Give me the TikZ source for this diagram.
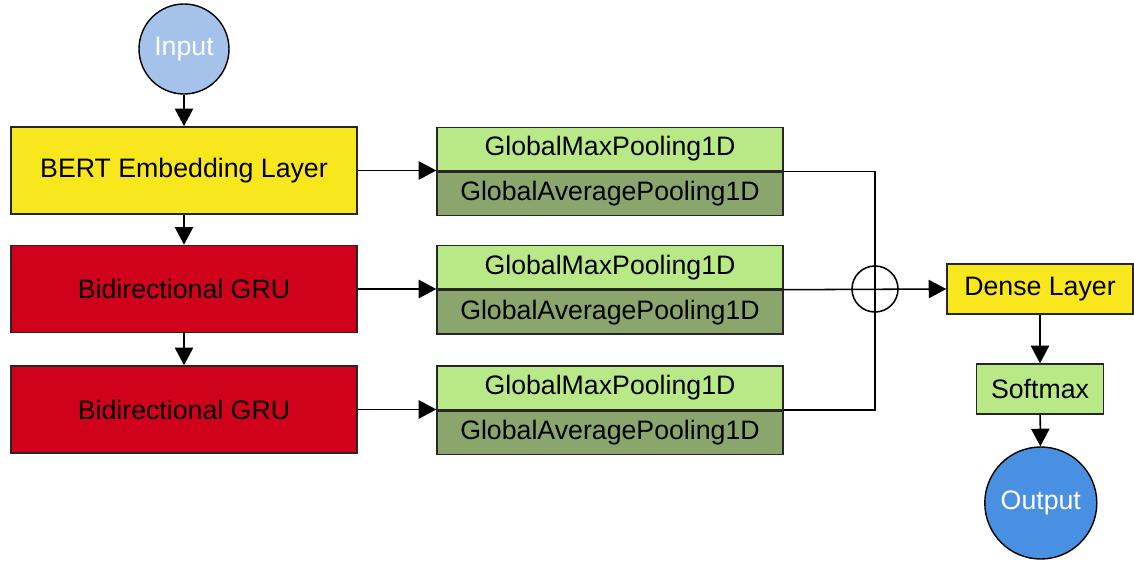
\documentclass[tikz,border=0pt]{standalone}
\usepackage{fontspec}
\setmainfont{Liberation Sans}
\usepackage{xcolor}
\usepackage{tikz}
\usetikzlibrary{positioning,arrows.meta}

\definecolor{layeryellow}{HTML}{F8E71C}
\definecolor{grured}{HTML}{D0021B}
\definecolor{poollight}{HTML}{B8E986}
\definecolor{pooldark}{HTML}{8AA66C}
\definecolor{inblue}{HTML}{A4C2EA}
\definecolor{outblue}{HTML}{4A90E2}

\tikzset{
  box/.style={draw=black!85, line width=1pt, inner sep=0pt, align=center},
  layer/.style={box, minimum width=8.65cm, minimum height=2.18cm},
  pool/.style={box, minimum width=8.65cm, minimum height=1.0875cm},
  io/.style={circle, draw=black, line width=1pt, text=white, inner sep=0pt},
  conn/.style={line width=1.1pt},
  arrow/.style={conn, -{Triangle[length=12.5pt, width=13pt]}}
}

\begin{document}
\begin{tikzpicture}[font=\fontsize{19}{22}\selectfont]
  \useasboundingbox (0,0) rectangle (28.35,14.025);

  % left column
  \node[io, fill=inblue, minimum size=2.25cm] (input) at (4.6,12.8) {Input};
  \node[layer, fill=layeryellow] (bert) at (4.6,9.7625) {BERT Embedding Layer};
  \node[layer, fill=grured] (gru1) at (4.6,6.8) {Bidirectional GRU};
  \node[layer, fill=grured] (gru2) at (4.6,3.7875) {Bidirectional GRU};

  % pooling blocks
  \node[pool, fill=poollight] (max1) at (15.25,10.3) {GlobalMaxPooling1D};
  \node[pool, fill=pooldark, below=0pt of max1] (avg1) {GlobalAveragePooling1D};
  \node[pool, fill=poollight] (max2) at (15.25,7.3438) {GlobalMaxPooling1D};
  \node[pool, fill=pooldark, below=0pt of max2] (avg2) {GlobalAveragePooling1D};
  \node[pool, fill=poollight] (max3) at (15.25,4.3313) {GlobalMaxPooling1D};
  \node[pool, fill=pooldark, below=0pt of max3] (avg3) {GlobalAveragePooling1D};

  % merge and output
  \node[circle, draw=black, line width=1.1pt, minimum size=1.15cm, inner sep=0pt] (sum) at (21.875,6.8) {};
  \node[box, fill=layeryellow, minimum width=4.65cm, minimum height=1.25cm] (dense) at (26.0,6.8) {Dense Layer};
  \node[box, fill=poollight, minimum width=3.175cm, minimum height=1.25cm] (softmax) at (26.0,4.3) {Softmax};
  \node[io, fill=outblue, minimum size=2.8cm] (output) at (26.02,1.45) {Output};

  \draw[arrow] (input) -- (bert);
  \draw[arrow] (bert) -- (gru1);
  \draw[arrow] (gru1) -- (gru2);
  \draw[arrow] (bert.east) -- (bert.east -| max1.west);
  \draw[arrow] (gru1.east) -- (gru1.east -| max2.west);
  \draw[arrow] (gru2.east) -- (gru2.east -| max3.west);

  \draw[conn] (max1.south east) -| (sum.center) |- (max3.south east);
  \draw[arrow] (max2.south east) -- (dense.west);
  \draw[arrow] (dense) -- (softmax);
  \draw[arrow] (softmax) -- (output);
\end{tikzpicture}
\end{document}
